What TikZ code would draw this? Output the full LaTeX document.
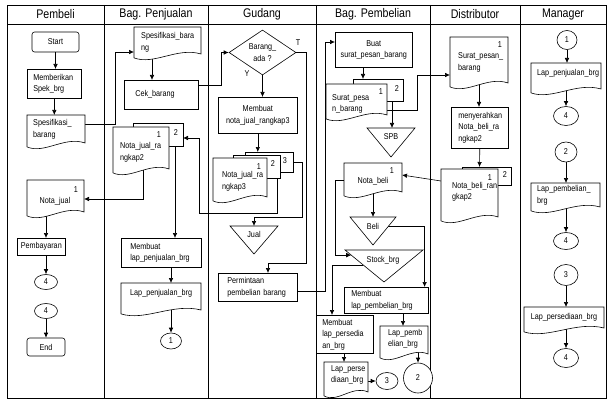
\documentclass[tikz,border=0pt]{standalone}
\usepackage{fontspec}
\setmainfont{Liberation Sans}[FakeStretch=0.85]
\usetikzlibrary{arrows.meta,calc,shapes.geometric}
\newcommand\fs{\fontsize{8.5}{11.5}\selectfont}
\newcommand\hs{\fontsize{12.5}{15}\selectfont}
\pgfdeclarelayer{back}
\pgfsetlayers{back,main}
\tikzset{
  ln/.style={line width=0.6pt},
  frame/.style={line width=0.8pt},
  arr/.style={ln,-{Latex[length=5pt,width=4.5pt]}},
  hd/.style={font=\hs, inner sep=0},
  bx/.style={draw, ln, fill=white, anchor=north west, inner ysep=0pt, font=\fs, align=left},
  rnd/.style={draw, ln, fill=white, rounded corners=2.5pt, inner sep=0, font=\fs},
  pl/.style={draw, ln, fill=white, anchor=north west, inner sep=0, outer sep=0},
  docn/.style={shape=rectangle, anchor=north west, inner sep=0, outer sep=0},
  tri/.style={shape=rectangle, anchor=north west, inner sep=0, outer sep=0},
  tx/.style={font=\fs, align=left, inner sep=0, anchor=west},
  num/.style={font=\fs, inner sep=0},
  cir/.style={draw, ln, fill=white, ellipse, inner sep=0, font=\fs},
}
\newcommand\mydoc[1]{\draw[ln, fill=white] (#1.north west) -- (#1.north east) -- ($(#1.south east)+(0,-6)$) .. controls ($(#1.south west)!0.65!(#1.south east)+(0,-13.2)$) and ($(#1.south west)!0.3!(#1.south east)+(0,5.4)$) .. ($(#1.south west)+(0,-2.1)$) -- cycle;}
\newcommand\docnode[5]{\node[docn, minimum width=#4pt, minimum height=#5pt] (#1) at (#2,#3) {};\mydoc{#1}}
\newcommand\mytri[1]{\draw[ln, fill=white] (#1.north west) -- (#1.north east) -- (#1.south) -- cycle;}
\begin{document}
\begin{tikzpicture}[x=1pt,y=-1pt]
\useasboundingbox (0,0) rectangle (610,401);
% ---------- headers
\node[hd] (h1) at (55.5,14) {Pembeli};
\node[hd] (h2) at (156,14) {Bag. Penjualan};
\node[hd] (h3) at (262,14) {Gudang};
\node[hd] (h4) at (373,14) {Bag. Pembelian};
\node[hd] (h5) at (475,14) {Distributor};
\node[hd] (h6) at (563,14) {Manager};
% ---------- Pembeli
\node[rnd, minimum width=47pt, minimum height=20pt] (start) at (55.5,42) {Start};
\node[bx, minimum height=29pt, text width=42pt, inner xsep=6pt] (memb) at (27,69) {Memberikan\\Spek\_brg};
\docnode{spes1}{27}{115}{58}{34}
\node[tx] (spes1t) at (33,129.5) {Spesifikasi\_\\barang};
\docnode{notaj}{27}{180}{57}{38}
\node[num] (notajn) at (76,190) {1};
\node[num] (notajt) at (55,201) {Nota\_jual};
\node[bx, align=center, minimum height=17pt, text width=46pt, inner xsep=1pt] (bayar) at (17,238) {Pembayaran};
\node[cir, minimum width=23pt, minimum height=15pt] (c4a) at (46,282) {4};
\node[cir, minimum width=23pt, minimum height=15pt] (c4b) at (46,311) {4};
\node[rnd, minimum width=38pt, minimum height=18pt] (endn) at (46,347) {End};
% ---------- Bag. Penjualan
\docnode{spes2}{134}{27}{67}{33}
\node[tx] (spes2t) at (141,42.5) {Spesifikasi\_bara\\ng};
\node[bx, minimum height=29pt, text width=52pt, inner xsep=11pt] (cek) at (124,80) {Cek\_barang};
\node[pl, minimum width=50pt, minimum height=23pt] (nj2b) at (133,123) {};
\docnode{nj2}{113}{127}{56}{48}
\node[num] (nj2n1) at (159,135) {1};
\node[num] (nj2n2) at (176,133) {2};
\node[tx] (nj2t) at (120,152.5) {Nota\_jual\_ra\\ngkap2};
\node[bx, minimum height=29pt, text width=62pt, inner xsep=9pt] (mlap) at (121,238) {Membuat\\lap\_penjualan\_brg};
\docnode{lapj}{121}{283}{80}{33}
\node[tx] (lapjt) at (130,293) {Lap\_penjualan\_brg};
\node[cir, minimum width=21pt, minimum height=16pt] (c1) at (171,341) {1};
% ---------- Gudang
\node[draw, ln, fill=white, diamond, aspect=1.5, minimum width=67pt, minimum height=45pt, inner sep=0, font=\fs, align=center] (dia) at (262.5,52.5) {Barang\_\\ada ?};
\node[num] (tl) at (298,43) {T};
\node[num] (yl) at (247,74) {Y};
\node[bx, align=center, minimum height=36pt, text width=77pt, inner xsep=1pt] (mnj3) at (218,97) {Membuat\\nota\_jual\_rangkap3};
\node[pl, minimum width=48pt, minimum height=20pt] (nj3c) at (245,152) {};
\node[pl, minimum width=47pt, minimum height=23pt] (nj3b) at (233,155) {};
\docnode{nj3}{213}{158}{54}{45}
\node[num] (nj3n3) at (285,161) {3};
\node[num] (nj3n2) at (273,164) {2};
\node[num] (nj3n1) at (259,167) {1};
\node[tx] (nj3t) at (222,181.5) {Nota\_jual\_ra\\ngkap3};
\node[tri, minimum width=48pt, minimum height=28pt] (jual) at (230,226) {};
\mytri{jual}
\node[num] (jualt) at (254,234) {Jual};
\node[bx, minimum height=28pt, text width=61pt, inner xsep=9pt] (perm) at (218,273) {Permintaan\\pembelian barang};
% ---------- Bag. Pembelian
\node[bx, align=center, minimum height=35pt, text width=75pt, inner xsep=1pt] (buat) at (335,32) {Buat\\surat\_pesan\_barang};
\node[pl, minimum width=50pt, minimum height=22pt] (spbb) at (353,79) {};
\docnode{spbf}{326}{84}{61}{37}
\node[num] (spbn1) at (381,92) {1};
\node[num] (spbn2) at (397,89) {2};
\node[tx] (spbt) at (332,104) {Surat\_pesa\\n\_barang};
\node[tri, minimum width=48pt, minimum height=29pt] (spbtri) at (367,128) {};
\mytri{spbtri}
\node[num] (spbl) at (391,137) {SPB};
\docnode{notab}{344}{163}{58}{35}
\node[num] (notabn) at (392,171) {1};
\node[num] (notabt) at (373,181) {Nota\_beli};
\node[tri, minimum width=46pt, minimum height=28pt] (beli) at (350,217) {};
\mytri{beli}
\node[num] (belit) at (373,226) {Beli};
\node[tri, minimum width=78pt, minimum height=32pt] (stock) at (345,250) {};
\mytri{stock}
\node[num] (stockt) at (383,260) {Stock\_brg};
\node[bx, minimum height=26pt, text width=70pt, inner xsep=7pt] (mlpb) at (344,287) {Membuat\\lap\_pembelian\_brg};
\node[bx, minimum height=38pt, text width=45pt, inner xsep=6pt] (mlps) at (316,315) {Membuat\\lap\_persedia\\an\_brg};
\docnode{lpb}{380}{326}{48}{34}
\node[tx] (lpbt) at (388,339) {Lap\_pemb\\elian\_brg};
\docnode{lps}{324}{362}{44}{36}
\node[tx] (lpst) at (331,375) {Lap\_perse\\diaan\_brg};
\node[cir, minimum width=22pt, minimum height=17pt] (c3) at (387,381) {3};
\node[cir, minimum width=29pt, minimum height=30pt] (c2) at (418,378) {2};
% ---------- Distributor
\docnode{sp}{450}{37}{58}{52}
\node[num] (spn) at (500,45) {1};
\node[tx] (spt) at (458,62.5) {Surat\_pesan\_\\barang};
\node[bx, minimum height=41pt, text width=43pt, inner xsep=7pt] (meny) at (451,107) {menyerahkan\\Nota\_beli\_ra\\ngkap2};
\node[pl, minimum width=49pt, minimum height=18pt] (nbrb) at (462,167) {};
\docnode{nbr}{441}{169}{57}{54}
\node[num] (nbrn1) at (490,178) {1};
\node[num] (nbrn2) at (505,175) {2};
\node[tx] (nbrt) at (452,192) {Nota\_beli\_ran\\gkap2};
% ---------- Manager
\node[cir, minimum width=20pt, minimum height=19pt] (m1) at (567,40) {1};
\docnode{mlj}{531}{63}{70}{32}
\node[tx] (mljt) at (537,73) {Lap\_penjualan\_brg};
\node[cir, minimum width=25pt, minimum height=19pt] (m4a) at (566,116) {4};
\node[cir, minimum width=22pt, minimum height=20pt] (m2) at (566,152) {2};
\docnode{mlpb2}{531}{183}{69}{30}
\node[tx] (mlpb2t) at (537,195.5) {Lap\_pembelian\_\\brg};
\node[cir, minimum width=25pt, minimum height=17pt] (m4b) at (566,241) {4};
\node[cir, minimum width=24pt, minimum height=21pt] (m3) at (566,275) {3};
\docnode{mlps2}{524}{307}{80}{27}
\node[num] (mlps2t) at (564,317) {Lap\_persediaan\_brg};
\node[cir, minimum width=25pt, minimum height=19pt] (m4c) at (566,358) {4};
% ---------- background layer: frame and connectors
\begin{pgfonlayer}{back}
\fill[white] (0,0) rectangle (610,401);
\draw[frame] (7,5) rectangle (606,398);
\draw[frame] (7,24) -- (606,24);
\foreach \xx in {104,208,316,430,520} \draw[frame] (\xx,5) -- (\xx,398);
% Pembeli
\draw[arr] (start.south) -- (start.south |- memb.north);
\draw[arr] (memb.south) -- (memb.south |- spes1.north);
\draw[arr] ($(spes1.north east)+(0,9)$) -- ++(30,0) |- ($(spes2.north west)+(0,25)$);
\draw[arr] (notaj.center -| c4a.north) -- (bayar.north -| c4a.north);
\draw[arr] (bayar.south -| c4a.north) -- (c4a.north);
\draw[arr] (c4b.south) -- (endn.north);
% Penjualan
\draw[arr] ($(spes2.west)+(18,0)$) -- ($(cek.north west)+(28,0)$);
\draw[arr] ($(cek.north east)+(0,5)$) -- ++(23,0) |- (dia.west);
\draw[arr] ($(nj2.west)+(30,0)$) |- (notaj.east);
\draw[arr] ($(nj2b.south west)+(42,0)$) -- ($(mlap.north west)+(54,0)$);
\draw[arr] (mlap.south -| c1.north) -- (lapj.north -| c1.north);
\draw[arr] (lapj.center -| c1.north) -- (c1.north);
% Gudang
\draw[arr] (dia.south) -- (dia.south |- mnj3.north);
\draw[arr] (mnj3.south) -- (mnj3.south |- nj3c.north);
\draw[arr] ($(nj3b.south west)+(44,0)$) -- ++(0,35) -- ++(-78,0) |- ($(nj2b.north east)+(0,15)$);
\draw[arr] (nj3c.east) -- ++(9,0) -- ++(0,55) -| (jual.north);
\draw[arr] (dia.east) -- ++(10,0) -- ++(0,211) -| ($(perm.north west)+(50,0)$);
\draw[arr] ($(perm.north east)+(0,18)$) -- ++(28,0) |- ($(buat.north west)+(0,10)$);
% Pembelian
\draw[arr] ($(buat.south west)+(28,0)$) -- ($(spbb.north west)+(10,0)$);
\draw[arr] ($(spbb.south west)+(39,0)$) -- ($(spbtri.north west)+(25,0)$);
\draw[arr] ($(spbf.north east)+(0,26)$) -- ++(30,0) |- ($(sp.north west)+(0,38)$);
\draw[arr] ($(nbr.north west)+(0,12)$) -- ($(notab.north east)+(0,12)$);
\draw[arr] (notab.center) -- (notab.center |- beli.north);
\draw[arr] (notab.west) -- ++(-9,0) |- ($(stock.north west)!0.16!(stock.south)$);
\draw[arr] ($(beli.north east)!0.33!(beli.south)$) -| ($(mlpb.north east)+(-4,0)$);
\draw[arr] ($(stock.north west)!0.47!(stock.south)$) -| ($(mlps.north west)+(16,0)$);
\draw[arr] ($(mlpb.south west)+(59,0)$) -- ($(lpb.north west)+(23,0)$);
\draw[arr] ($(mlps.south west)+(28,0)$) -- ($(lps.north west)+(20,0)$);
\draw[arr] (lpb.center -| c2.north) -- (c2.north);
\draw[arr] (lps.east |- c3.west) -- (c3.west);
% Distributor
\draw[arr] (sp.center) -- (sp.center |- meny.north);
\draw[arr] (meny.south) -- ($(nbrb.north west)+(17.5,0)$);
% Manager
\draw[arr] (m1.south) -- (m1.south |- mlj.north);
\draw[arr] (mlj.center -| m4a.north) -- (m4a.north);
\draw[arr] (m2.south) -- (m2.south |- mlpb2.north);
\draw[arr] (mlpb2.center -| m4b.north) -- (m4b.north);
\draw[arr] (m3.south) -- (m3.south |- mlps2.north);
\draw[arr] (mlps2.center -| m4c.north) -- (m4c.north);
\end{pgfonlayer}
\end{tikzpicture}
\end{document}
